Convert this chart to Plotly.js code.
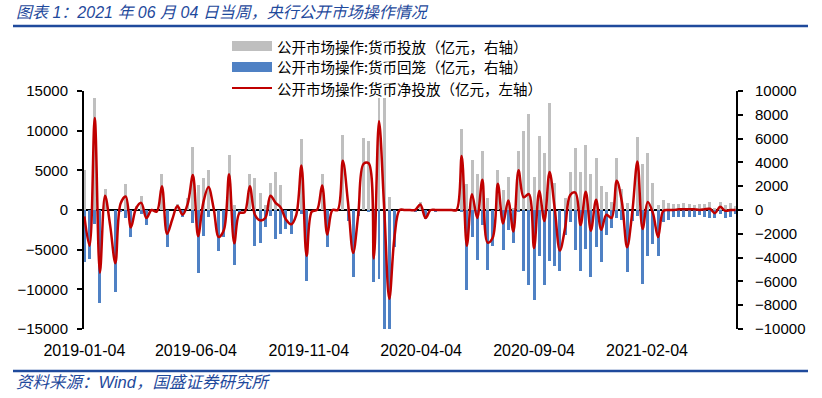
<!DOCTYPE html>
<html>
<head>
<meta charset="utf-8">
<script src="https://cdn.plot.ly/plotly-3.0.1.min.js"></script>
<style>html,body{margin:0;padding:0;background:#fff;}#chart{width:822px;height:398px;}</style>
</head>
<body>
<div id="chart"></div>
<script>
// Weekly dates (week ending Friday)
const weeks = [
"2019-01-04","2019-01-11","2019-01-18","2019-01-25","2019-02-01","2019-02-08","2019-02-15","2019-02-22",
"2019-03-01","2019-03-08","2019-03-15","2019-03-22","2019-03-29","2019-04-05","2019-04-12","2019-04-19",
"2019-04-26","2019-05-03","2019-05-10","2019-05-17","2019-05-24","2019-05-31","2019-06-07","2019-06-14",
"2019-06-21","2019-06-28","2019-07-05","2019-07-12","2019-07-19","2019-07-26","2019-08-02","2019-08-09",
"2019-08-16","2019-08-23","2019-08-30","2019-09-06","2019-09-13","2019-09-20","2019-09-27","2019-10-04",
"2019-10-11","2019-10-18","2019-10-25","2019-11-01","2019-11-08","2019-11-15","2019-11-22","2019-11-29",
"2019-12-06","2019-12-13","2019-12-20","2019-12-27","2020-01-03","2020-01-10","2020-01-17","2020-01-24",
"2020-01-31","2020-02-07","2020-02-14","2020-02-21","2020-02-28","2020-03-06","2020-03-13","2020-03-20",
"2020-03-27","2020-04-03","2020-04-10","2020-04-17","2020-04-24","2020-05-01","2020-05-08","2020-05-15",
"2020-05-22","2020-05-29","2020-06-05","2020-06-12","2020-06-19","2020-06-26","2020-07-03","2020-07-10",
"2020-07-17","2020-07-24","2020-07-31","2020-08-07","2020-08-14","2020-08-21","2020-08-28","2020-09-04",
"2020-09-11","2020-09-18","2020-09-25","2020-10-02","2020-10-09","2020-10-16","2020-10-23","2020-10-30",
"2020-11-06","2020-11-13","2020-11-20","2020-11-27","2020-12-04","2020-12-11","2020-12-18","2020-12-25",
"2021-01-01","2021-01-08","2021-01-15","2021-01-22","2021-01-29","2021-02-05","2021-02-12","2021-02-19",
"2021-02-26","2021-03-05","2021-03-12","2021-03-19","2021-03-26","2021-04-02","2021-04-09","2021-04-16",
"2021-04-23","2021-04-30","2021-05-07","2021-05-14","2021-05-21","2021-05-28","2021-06-04"
];

// 货币投放 (亿元, right axis)
const injection = [
3400,0,9400,0,1800,0,0,0,2200,0,300,1200,0,0,0,3000,
0,0,500,0,1000,5300,2100,2700,3400,0,0,0,4600,450,0,0,
3000,2700,1400,450,2300,3200,2100,0,0,0,6000,0,0,0,3000,0,
0,0,6300,450,0,0,6050,5800,0,9400,9400,1100,0,0,0,0,
0,700,0,0,0,0,0,0,0,6800,2200,4200,3050,5000,1050,0,
3350,1650,2800,150,5000,6600,8100,2800,6200,4800,9000,2240,0,1000,3200,5200,
3200,5500,3000,4400,2000,1500,650,4400,1800,550,0,6100,3900,4800,2300,400,
850,550,500,500,550,500,400,500,500,650,200,650,450,550,300
];

// 货币回笼 (亿元, right axis)
const withdrawal = [
-4400,-4150,-1200,-7800,0,0,-6850,-200,-700,-2300,0,-300,-1300,0,0,0,
-3100,0,0,-600,0,-1100,-5300,-2150,-600,0,-3450,-2300,0,-4600,-250,0,
0,-3050,-2800,-1450,-500,-2400,-2000,-1600,-2000,0,-300,-6000,0,0,0,-3100,
0,0,0,-950,-5600,-500,0,-200,-6050,-5800,-10000,-10000,-3100,0,0,0,
-200,0,-750,0,-200,0,0,0,0,-200,-6750,-2250,-4200,-1250,-5000,-3000,
0,-3400,-1700,-2800,-200,-5100,-6300,-7600,-3900,-6300,-4300,-4700,-5100,-2130,-1000,-3350,
-5150,-3300,-5600,-3100,-4400,-2100,-1500,-700,-800,-5200,-900,-500,-6200,-3900,-2850,-3900,
-1000,-870,-550,-550,-600,-550,-550,-450,-550,-630,-700,-320,-680,-600,-300
];

// 货币净投放 (亿元, left axis)
const netInjection = [
-800,-4500,11600,-7900,1800,-2000,-6700,800,1700,-2200,200,900,-1000,0,-200,3000,
-3000,-1200,500,-600,800,4400,-3300,900,2900,250,-3400,-2500,4500,-4200,-400,-300,
3000,-600,-1300,-1000,1800,900,300,-1200,-1800,-600,5600,-5800,-200,0,3100,-3100,
0,0,6200,1000,-5400,-500,5800,5900,-6100,11200,300,-11200,-3400,0,0,0,
0,700,-1000,0,0,0,0,0,0,6800,-4500,2000,-1000,3800,-4100,-3500,
3300,-1700,1200,-2700,5000,1600,2000,-4800,2400,-1400,4800,200,-5100,-2300,1900,2200,
-1900,2300,-2600,1300,-2500,-600,-1000,3700,1000,-4700,-300,6100,-2400,1000,-400,-3400,
-100,0,0,100,100,100,100,0,100,150,-400,400,-100,0,0
];

const tickDates = ["2019-01-04","2019-06-04","2019-11-04","2020-04-04","2020-09-04","2021-02-04"];

const names = ["公开市场操作:货币投放（亿元，右轴）","公开市场操作:货币回笼（亿元，右轴）","公开市场操作:货币净投放（亿元，左轴）"];
const colors = {inj:"#BFBFBF", wd:"#4F81C4", net:"#C00000", blue:"#1F4A9C"};

const DAY = 86400000;
const traces = [
  {type:"bar", name:names[0], x:weeks, y:injection, yaxis:"y", marker:{color:colors.inj}, width:4*DAY, hoverinfo:"x+y"},
  {type:"bar", name:names[1], x:weeks, y:withdrawal, yaxis:"y", marker:{color:colors.wd}, width:4*DAY, hoverinfo:"x+y"},
  {type:"scatter", mode:"lines", name:names[2], x:weeks, y:netInjection, yaxis:"y2",
   line:{color:colors.net, width:2.5, shape:"spline", smoothing:1}}
];

// plot area: x 84..736, y 91..329
const L=84, R=736, T=91, B=329;
const px = v => (v-L)/(R-L);
const py = v => (B-v)/(B-T);

const cjk = "'Noto Sans CJK SC', sans-serif";
const lat = "'Liberation Sans', 'Noto Sans CJK SC', sans-serif";

const rows = [46, 67, 88];
const shapes = [
  {type:"line", xref:"paper", yref:"paper", x0:px(13), x1:px(808), y0:py(26), y1:py(26), line:{color:colors.blue, width:2.5}},
  {type:"line", xref:"paper", yref:"paper", x0:px(13), x1:px(808), y0:py(371), y1:py(371), line:{color:colors.blue, width:2.5}},
  {type:"rect", xref:"paper", yref:"paper", x0:px(232), x1:px(272), y0:py(rows[0]+5), y1:py(rows[0]-5), fillcolor:colors.inj, line:{width:0}},
  {type:"rect", xref:"paper", yref:"paper", x0:px(232), x1:px(272), y0:py(rows[1]+5), y1:py(rows[1]-5), fillcolor:colors.wd, line:{width:0}},
  {type:"line", xref:"paper", yref:"paper", x0:px(232), x1:px(272), y0:py(rows[2]), y1:py(rows[2]), line:{color:colors.net, width:2}}
];

const annotations = [
  {xref:"paper", yref:"paper", x:px(14), y:py(12), xanchor:"left", yanchor:"middle", showarrow:false,
   text:"<i>图表 1：2021 年 06 月 04 日当周，央行公开市场操作情况</i>", font:{family:lat, size:16, color:colors.blue}},
  {xref:"paper", yref:"paper", x:px(14), y:py(382), xanchor:"left", yanchor:"middle", showarrow:false,
   text:"<i>资料来源：Wind，国盛证券研究所</i>", font:{family:lat, size:16.5, color:colors.blue}}
];
names.forEach((n, k) => annotations.push({xref:"paper", yref:"paper", x:px(275), y:py(rows[k]), xanchor:"left", yanchor:"middle",
  showarrow:false, text:n, font:{family:cjk, size:14.5, color:"#000"}}));

const layout = {
  width:822, height:398,
  margin:{l:L, r:822-R, t:T, b:398-B, pad:0},
  paper_bgcolor:"#fff", plot_bgcolor:"#fff",
  showlegend:false,
  barmode:"relative",
  bargap:0,
  xaxis:{type:"date", range:["2019-01-03 12:00","2021-06-04 12:00"], tickvals:tickDates, tickformat:"%Y-%m-%d",
         showgrid:false, zeroline:false, showline:false, ticks:"outside", ticklen:7, tickcolor:"rgba(0,0,0,0)",
         tickfont:{family:lat, size:16, color:"#000"}, fixedrange:true},
  yaxis:{side:"right", range:[-10000,10000], dtick:2000, tickformat:"d", showgrid:false, zeroline:true, zerolinecolor:"#000", zerolinewidth:1.3,
         showline:true, linecolor:"#000", linewidth:2, ticks:"outside", ticklen:5, tickwidth:2, tickcolor:"#000",
         ticklabelstandoff:9, tickfont:{family:lat, size:15, color:"#000"}, fixedrange:true},
  yaxis2:{side:"left", overlaying:"y", range:[-15000,15000], dtick:5000, tickformat:"d", showgrid:false, zeroline:false,
         showline:true, linecolor:"#000", linewidth:2, ticks:"outside", ticklen:5, tickwidth:2, tickcolor:"#000",
         ticklabelstandoff:6, tickfont:{family:lat, size:15, color:"#000"}, fixedrange:true},
  shapes:shapes,
  annotations:annotations
};

Plotly.newPlot("chart", traces, layout, {displayModeBar:false, staticPlot:true});
</script>
</body>
</html>
